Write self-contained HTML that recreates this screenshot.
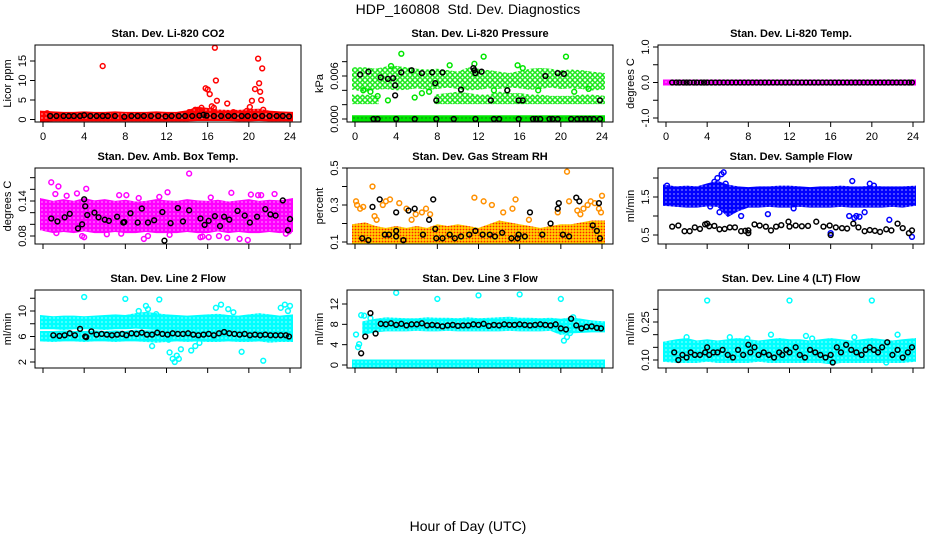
<!DOCTYPE html>
<html><head><meta charset="utf-8">
<style>
html,body{margin:0;padding:0;background:#fff}
svg{display:block;font-family:"Liberation Sans",Arial,sans-serif}
</style></head>
<body>
<svg id="chart" width="936" height="540" viewBox="0 0 936 540" xmlns="http://www.w3.org/2000/svg">
<defs>
<pattern id="pat-red" width="4" height="4" patternUnits="userSpaceOnUse"><rect width="4" height="4" fill="#ff0000"/><circle cx="2" cy="2" r="0.6" fill="#fff"/></pattern>
<pattern id="pat-green" width="4" height="4" patternUnits="userSpaceOnUse"><rect width="4" height="4" fill="#00e600"/><circle cx="2" cy="2" r="0.7" fill="#1a6a1a"/></pattern>
<pattern id="pat-green-sparse" width="5" height="5" patternUnits="userSpaceOnUse"><rect width="5" height="5" fill="#fff"/><circle cx="2.5" cy="2.5" r="1.8" fill="none" stroke="#00e600" stroke-width="1.3"/></pattern>
<pattern id="pat-magenta" width="4" height="4" patternUnits="userSpaceOnUse"><rect width="4" height="4" fill="#ff00ff"/><circle cx="2" cy="2" r="0.6" fill="#fff"/></pattern>
<pattern id="pat-orange" width="3" height="3" patternUnits="userSpaceOnUse"><rect width="3" height="3" fill="#ffd000"/><circle cx="1.5" cy="1.5" r="0.9" fill="#ff2000"/></pattern>
<pattern id="pat-blue" width="4" height="4" patternUnits="userSpaceOnUse"><rect width="4" height="4" fill="#0000ff"/><circle cx="2" cy="2" r="0.6" fill="#fff"/></pattern>
<pattern id="pat-cyan" width="4" height="4" patternUnits="userSpaceOnUse"><rect width="4" height="4" fill="#00ffff"/><circle cx="2" cy="2" r="0.6" fill="#fff"/></pattern>
</defs>
<text x="468" y="14" text-anchor="middle" font-size="14">HDP_160808&#160; Std. Dev. Diagnostics</text>
<text x="468" y="531" text-anchor="middle" font-size="14">Hour of Day (UTC)</text>
</svg>
<script>
const hours = [0,1,2,3,4,5,6,7,8,9,10,11,12,13,14,15,16,17,18,19,20,21,22,23,24];
const xTicks = [0,4,8,12,16,20,24];

// Panel 1: CO2
const co2Low = [0.2,0.3,0.3,0.3,0.3,0.3,0.3,0.3,0.3,0.3,0.3,0.3,0.3,0.3,0.3,0.4,0.4,0.4,0.4,0.3,0.3,0.4,0.3,0.3,0.3];
const co2High = [1.5,1.3,1.2,1.2,1.3,1.2,1.2,1.3,1.2,1.2,1.2,1.3,1.2,1.2,1.6,2.5,2.2,1.8,1.7,1.7,1.9,2.0,1.5,1.3,1.2];
const co2OutX = [0.4,5.8,14.2,14.8,15.1,15.4,15.8,16.0,16.2,16.4,16.6,16.7,16.8,16.9,17.9,18.5,19.8,20.1,20.3,20.6,20.9,21.0,21.1,21.2,21.3,21.4];
const co2OutY = [1.6,13.7,1.9,2.5,2.2,3.0,8.0,7.7,6.5,3.4,3.0,18.4,10.0,4.8,4.1,1.9,2.2,3.2,4.8,7.8,15.6,9.3,7.1,5.0,13.1,2.5];
const co2BlkX = [0.7,1.3,2.0,2.5,3.0,3.6,4.0,4.6,5.2,5.8,6.3,7.0,7.9,8.6,9.2,9.8,10.5,11.2,11.9,12.5,13.2,13.8,14.5,15.2,15.6,15.9,16.6,17.3,18.0,18.6,19.3,19.9,20.6,21.3,22.0,22.7,23.3,23.9];
const co2BlkY = [0.9,0.9,0.9,0.9,0.9,0.9,1.1,0.9,0.9,0.9,0.9,0.9,0.7,0.9,0.9,0.9,0.9,0.9,0.8,0.9,0.9,0.9,0.9,1.0,1.2,1.0,0.9,0.9,0.9,0.9,0.9,0.9,0.9,0.9,0.9,0.9,0.9,0.8];

// Panel 2: Pressure
const presZeroLow = [0,0,0,0,0,0,0,0,0,0,0,0,0,0,0,0,0,0,0,0,0,0,0,0,0];
const presZeroHigh = [0.0001,0.0001,0.0001,0.0001,0.0001,0.0001,0.0001,0.0001,0.0001,0.0001,0.0001,0.0001,0.0001,0.0001,0.0001,0.0001,0.0001,0.0001,0.0001,0.0001,0.0001,0.0001,0.0001,0.0001,0.0001];
const presLow = [0.0045,0.0042,0.0045,0.0046,0.0044,0.0045,0.0047,0.0045,0.0046,0.0048,0.0046,0.0044,0.0045,0.0047,0.0046,0.0048,0.0047,0.0045,0.0046,0.0048,0.0046,0.0047,0.0046,0.0044,0.0045];
const presHigh = [0.0068,0.0068,0.0066,0.0069,0.0070,0.0068,0.0066,0.0065,0.0066,0.0064,0.0062,0.0068,0.0066,0.0064,0.0062,0.0060,0.0063,0.0066,0.0067,0.0066,0.0064,0.0065,0.0064,0.0062,0.0060];
const presMidLow = [0.0025,0.0025,0.0025,null,null,null,null,null,0.0025,0.0025,0.0025,0.0025,0.0025,0.0025,0.0025,0.0025,0.0025,0.0025,0.0025,0.0025,0.0025,0.0025,0.0025,0.0025,0.0025];
const presMidHigh = [0.0030,0.0030,0.0028,null,null,null,null,null,0.0030,0.0032,0.0034,0.0032,0.0030,0.0030,0.0034,0.0032,0.0032,0.0030,0.0030,0.0028,0.0028,0.0028,0.0030,0.0030,0.0028];
const presOutX = [4.5,12.5,20.5,3.5,9.2,15.8,11.6,16.3,0.8,2.2,5.8,7.2,13.5,17.8,21.3,22.7,1.5,6.5,3.2,10.3,14.8];
const presOutY = [0.0091,0.0087,0.0087,0.0074,0.0075,0.0075,0.0077,0.0071,0.0040,0.0032,0.0030,0.0038,0.0040,0.0040,0.0038,0.0042,0.0038,0.0036,0.0026,0.0041,0.0040];
const presBlkX = [0.5,1.3,2.5,3.2,3.7,3.9,3.9,4.5,5.5,6.5,7.5,7.8,7.9,8.5,10.3,11.5,11.6,11.7,12.3,13.2,14.8,15.9,16.3,18.5,19.7,20.3,23.8,1.8,2.2,4.0,5.8,7.9,9.6,11.7,13.5,14.0,15.9,17.3,17.6,18.0,18.9,19.2,19.7,21.0,21.6,22.0,22.4,22.8,23.2,23.8];
const presBlkY = [0.0062,0.0066,0.0058,0.0056,0.0057,0.0047,0.0033,0.0065,0.0068,0.0064,0.0065,0.0050,0.0026,0.0065,0.0041,0.0071,0.0068,0.0064,0.0066,0.0026,0.0040,0.0026,0.0026,0.0060,0.0064,0.0063,0.0026,0,0,0,0,0,0,0,0,0,0,0,0,0,0,0,0,0,0,0,0,0,0,0];

// Panel 3: Li-820 Temp
const tempLow = [0,0,0,0,0,0,0,0,0,0,0,0,0,0,0,0,0,0,0,0,0,0,0,0,0];
const tempHigh = [0,0,0,0,0,0,0,0,0,0,0,0,0,0,0,0,0,0,0,0,0,0,0,0,0];
const tempBlkX = [0.6,1.0,1.3,1.7,2.0,2.3,2.7,3.0,3.4,3.7,4.0,4.4,4.8,5.2,5.6,6.0,6.4,6.8,7.2,7.6,8.0,8.4,8.8,9.2,9.6,10.0,10.4,10.8,11.2,11.6,12.0,12.4,12.8,13.2,13.6,14.0,14.4,14.8,15.2,15.6,16.0,16.4,16.8,17.2,17.6,18.0,18.4,18.8,19.2,19.6,20.0,20.4,20.8,21.2,21.6,22.0,22.4,22.8,23.2,23.6,23.9];
const tempBlkY = [0,0,0,0,0,0,0,0,0,0,0,0,0,0,0,0,0,0,0,0,0,0,0,0,0,0,0,0,0,0,0,0,0,0,0,0,0,0,0,0,0,0,0,0,0,0,0,0,0,0,0,0,0,0,0,0,0,0,0,0,0];

// Panel 4: Amb Box Temp
const ambLow = [0.095,0.09,0.092,0.09,0.093,0.09,0.09,0.092,0.09,0.09,0.092,0.09,0.09,0.09,0.092,0.09,0.09,0.093,0.09,0.092,0.09,0.09,0.092,0.09,0.092];
const ambHigh = [0.14,0.135,0.138,0.135,0.14,0.136,0.138,0.135,0.137,0.134,0.135,0.138,0.136,0.135,0.138,0.136,0.135,0.137,0.134,0.136,0.138,0.135,0.137,0.136,0.14];
const ambOutX = [0.8,1.2,1.5,2.3,3.3,3.8,4.2,6.2,7.4,8.1,9.3,10.2,11.3,12.1,14.2,15.3,16.3,17.1,18.3,19.1,20.2,21.2,22.5,23.6,4.0,7.6,12.3,15.5,16.1,17.9,19.9,20.9,23.9,1.3,9.8];
const ambOutY = [0.172,0.152,0.165,0.149,0.153,0.08,0.161,0.083,0.15,0.15,0.145,0.08,0.147,0.155,0.187,0.078,0.146,0.08,0.154,0.075,0.151,0.15,0.152,0.084,0.078,0.084,0.082,0.079,0.078,0.077,0.073,0.15,0.088,0.085,0.075];
const ambBlkX = [0.8,1.4,2.1,2.6,3.4,3.8,4.0,4.1,4.3,5.0,5.4,6.0,6.4,7.2,7.8,7.9,8.5,9.2,9.6,10.2,10.8,11.6,11.8,12.4,13.1,13.6,14.2,15.3,15.7,16.1,16.7,17.2,17.6,18.1,18.9,19.6,20.1,20.8,21.6,22.1,22.6,23.3,23.8,24.0];
const ambBlkY = [0.11,0.105,0.112,0.118,0.093,0.1,0.143,0.131,0.116,0.12,0.112,0.108,0.106,0.113,0.103,0.104,0.119,0.103,0.127,0.103,0.107,0.121,0.072,0.102,0.128,0.105,0.124,0.11,0.099,0.106,0.114,0.097,0.113,0.108,0.123,0.115,0.103,0.113,0.126,0.117,0.115,0.141,0.09,0.109];

// Panel 5: Gas Stream RH
const rhLow = [0.1,0.1,0.1,0.1,0.1,0.1,0.1,0.1,0.1,0.1,0.1,0.1,0.1,0.1,0.1,0.1,0.1,0.1,0.1,0.1,0.1,0.1,0.1,0.1,0.1];
const rhHigh = [0.18,0.19,0.17,0.16,0.17,0.16,0.17,0.16,0.18,0.17,0.18,0.17,0.16,0.18,0.2,0.19,0.18,0.17,0.16,0.17,0.18,0.18,0.19,0.2,0.2];
const rhOutX = [0.1,0.2,0.5,0.8,1.7,1.9,2.1,2.7,3.0,3.4,4.3,5.0,5.5,5.9,6.5,6.9,7.3,11.6,12.5,13.3,14.4,15.3,15.6,16.9,19.7,20.6,20.8,21.6,21.9,22.2,22.6,22.9,23.3,23.7,24.0,23.9];
const rhOutY = [0.32,0.3,0.28,0.29,0.4,0.24,0.22,0.3,0.32,0.33,0.31,0.28,0.22,0.25,0.26,0.28,0.25,0.34,0.32,0.3,0.26,0.28,0.33,0.22,0.26,0.48,0.32,0.27,0.25,0.28,0.3,0.32,0.31,0.28,0.35,0.26];
const rhBlkX = [0.7,1.3,1.7,2.4,2.9,3.3,4.0,4.0,4.0,4.7,5.2,5.8,6.6,7.2,7.6,7.8,7.9,8.5,9.2,9.7,10.3,11.1,11.7,12.4,13.1,13.6,14.3,15.2,15.8,15.9,16.5,17.0,18.2,19.0,19.7,19.8,20.2,20.8,21.5,21.8,23.1,23.5,23.7,23.8];
const rhBlkY = [0.12,0.11,0.29,0.33,0.14,0.14,0.26,0.16,0.13,0.11,0.27,0.28,0.14,0.22,0.33,0.17,0.12,0.12,0.14,0.12,0.13,0.14,0.16,0.14,0.14,0.13,0.15,0.12,0.12,0.14,0.13,0.26,0.14,0.2,0.28,0.31,0.14,0.13,0.34,0.32,0.19,0.16,0.31,0.12];

// Panel 6: Sample Flow
const sfLow = [1.35,1.32,1.3,1.3,1.33,1.32,1.05,1.2,1.3,1.3,1.32,1.3,1.3,1.32,1.3,1.3,1.3,1.32,1.3,1.3,1.3,1.3,1.32,1.3,1.35];
const sfHigh = [1.75,1.7,1.72,1.7,1.78,1.85,1.75,1.7,1.68,1.7,1.7,1.72,1.72,1.7,1.68,1.7,1.7,1.72,1.7,1.7,1.72,1.7,1.7,1.7,1.72];
const sfOutX = [0.1,4.7,5.0,5.4,5.6,5.8,4.3,7.3,9.9,12.4,16.0,17.8,18.3,18.8,19.3,19.8,20.2,21.7,23.9,18.1,18.5,5.2];
const sfOutY = [1.8,1.9,2.0,2.1,2.15,1.85,1.25,1.0,1.05,1.2,0.55,1.0,0.95,0.98,1.1,1.85,1.8,0.9,0.45,1.92,1.0,1.1];
const sfBlkX = [0.6,1.2,1.8,2.3,2.8,3.3,3.8,4.0,4.2,4.7,5.2,5.7,6.2,6.7,7.3,7.7,8.0,8.0,8.6,9.1,9.7,10.2,10.7,11.2,11.9,12.0,12.6,13.2,13.8,14.6,15.3,15.9,16.0,16.5,17.1,17.6,18.2,18.7,19.3,19.8,20.3,20.8,21.4,21.9,22.5,23.0,23.6,23.9];
const sfBlkY = [0.72,0.75,0.6,0.6,0.7,0.66,0.78,0.8,0.73,0.74,0.65,0.66,0.7,0.7,0.6,0.61,0.62,0.55,0.78,0.75,0.72,0.62,0.72,0.76,0.85,0.72,0.75,0.73,0.74,0.85,0.72,0.75,0.5,0.7,0.68,0.67,0.8,0.7,0.6,0.63,0.61,0.58,0.65,0.62,0.8,0.68,0.55,0.62];

// Panel 7: Line 2 Flow
const l2UpLow = [7.6,7.6,7.5,7.6,7.6,7.6,7.5,7.6,7.6,7.7,7.6,7.5,7.2,7.3,7.5,7.4,7.4,7.5,7.3,7.2,7.2,7.3,7.2,7.0,7.2];
const l2UpHigh = [8.9,8.7,8.8,8.8,8.7,8.8,8.9,9.0,8.9,9.2,9.4,9.2,9.0,8.9,8.8,8.9,9.0,9.1,8.9,8.8,9.0,9.2,9.0,8.8,9.0];
const l2LoLow = [5.7,5.6,5.7,5.7,5.6,5.7,5.7,5.6,5.7,5.7,5.6,5.5,5.6,5.7,5.6,5.7,5.6,5.6,5.7,5.6,5.6,5.7,5.5,5.6,5.6];
const l2LoHigh = [6.4,6.4,6.5,6.4,6.4,6.5,6.4,6.5,6.4,6.6,6.5,6.5,6.6,6.5,6.6,6.5,6.5,6.6,6.5,6.4,6.5,6.5,6.4,6.4,6.5];
const l2OutX = [4,8,11.3,12.3,12.6,12.8,13.0,13.2,13.4,12.2,10.6,10.2,10.0,14.4,14.8,15.2,16.8,17.3,18.0,18.5,19.3,21.4,23.1,23.5,23.8,24.0,9.3,11.0];
const l2OutY = [12.2,11.9,11.8,3.5,2.5,2.0,3.0,2.5,4.0,5.5,4.5,10.3,10.8,3.8,4.5,5.0,10.5,11.0,10.3,9.8,3.6,2.2,10.5,11.0,10.0,10.8,10.0,9.5];
const l2BlkX = [1.0,1.6,2.1,2.6,3.1,3.6,4.1,4.2,4.7,5.2,5.7,6.2,6.7,7.2,7.7,8.1,8.6,9.1,9.6,10.1,10.6,11.1,11.6,12.1,12.6,13.1,13.6,14.1,14.6,15.1,15.6,16.1,16.6,17.1,17.6,18.1,18.6,19.1,19.6,20.1,20.6,21.1,21.6,22.1,22.6,23.1,23.6,23.9];
const l2BlkY = [6.2,6.1,6.2,6.5,6.2,7.2,6.0,5.9,6.8,6.3,6.4,6.3,6.2,6.3,6.4,6.2,6.5,6.4,6.6,6.3,6.3,6.6,6.4,6.3,6.5,6.4,6.4,6.5,6.3,6.2,6.3,6.4,6.2,6.5,6.7,6.5,6.4,6.3,6.4,6.2,6.3,6.2,6.3,6.2,6.2,6.2,6.2,6.0];

// Panel 8: Line 3 Flow
const l3ZeroLow = [0,0,0,0,0,0,0,0,0,0,0,0,0,0,0,0,0,0,0,0,0,0,0,0,0];
const l3ZeroHigh = [0.5,0.5,0.5,0.5,0.5,0.5,0.5,0.5,0.5,0.5,0.5,0.5,0.5,0.5,0.5,0.5,0.5,0.5,0.5,0.5,0.5,0.5,0.5,0.5,0.5];
const l3Low = [null,6.5,7,7.2,7.2,7.2,7.3,7.2,7.2,7.3,7.2,7.2,7.2,7.2,7.2,7.3,7.2,7.2,7.2,7.3,6.5,6.8,6.9,7,7];
const l3High = [null,8,8.5,8.8,8.7,8.6,8.6,8.8,8.7,8.7,8.6,8.8,8.6,8.7,8.8,8.9,8.7,8.7,8.6,8.7,8.5,8.8,8.5,8.2,8.0];
const l3OutX = [0.1,0.3,0.6,0.9,0.4,4.0,8.0,12.0,16.0,20.0,20.3,20.6,20.9,21.2,1.5];
const l3OutY = [6,3.5,9.8,9.7,4.1,14.2,13,13.7,13.9,13,4.8,5.5,6.3,9.4,9.2];
const l3BlkX = [0.6,1.0,1.5,2.0,2.5,3.0,3.5,4.0,4.5,5.0,5.5,6.0,6.5,7.0,7.5,8.0,8.5,9.0,9.5,10.0,10.5,11.0,11.5,12.0,12.5,13.0,13.5,14.0,14.5,15.0,15.5,16.0,16.5,17.0,17.5,18.0,18.5,19.0,19.5,20.0,20.5,21.0,21.5,22.0,22.5,23.0,23.5,23.9];
const l3BlkY = [2.3,5.6,10.2,6.2,8.1,8.0,8.2,7.9,8.1,7.8,8.0,8.0,8.2,7.8,7.9,7.8,7.6,7.8,7.9,7.7,7.8,7.8,8.0,7.9,8.1,7.7,7.9,7.8,8.0,7.9,7.9,8.0,7.9,7.8,7.9,8.0,7.9,7.8,8.0,7.2,7.0,9.1,7.8,7.2,7.5,7.6,7.3,7.2];

// Panel 9: Line 4 Flow
const l4Low = [0.105,0.1,0.1,0.1,0.105,0.1,0.1,0.1,0.1,0.105,0.1,0.1,0.1,0.1,0.1,0.1,0.095,0.1,0.1,0.1,0.1,0.1,0.1,0.1,0.105];
const l4High = [0.16,0.17,0.175,0.165,0.17,0.165,0.17,0.175,0.17,0.165,0.17,0.175,0.17,0.17,0.165,0.17,0.175,0.17,0.165,0.17,0.175,0.17,0.165,0.17,0.175];
const l4OutX = [4,12,20,16.2,2.0,6.2,10.2,14.2,18.3,22.5,7.9,13.6,21.4];
const l4OutY = [0.335,0.335,0.335,0.09,0.19,0.19,0.2,0.185,0.19,0.2,0.185,0.195,0.09];
const l4BlkX = [0.8,1.2,1.6,2.0,2.4,2.8,3.3,3.8,4.0,4.2,4.6,5.0,5.5,6.0,6.5,7.0,7.5,8.0,8.2,8.6,9.0,9.5,10.0,10.5,11.0,11.3,11.7,12.0,12.6,13.0,13.5,14.0,14.5,15.0,15.5,16.0,16.2,16.6,17.0,17.5,18.0,18.5,19.0,19.4,19.8,20.2,20.6,21.0,21.5,22.0,22.5,23.0,23.5,23.9];
const l4BlkY = [0.13,0.10,0.12,0.11,0.13,0.12,0.12,0.13,0.15,0.12,0.13,0.13,0.14,0.12,0.11,0.14,0.12,0.16,0.13,0.15,0.12,0.13,0.12,0.11,0.13,0.12,0.14,0.13,0.15,0.12,0.11,0.14,0.13,0.12,0.11,0.12,0.09,0.15,0.13,0.16,0.14,0.13,0.12,0.14,0.15,0.14,0.13,0.15,0.17,0.12,0.14,0.11,0.13,0.15];

const NS = 'http://www.w3.org/2000/svg';
const svg = document.getElementById('chart');
const cols = [[35,301],[347,613],[658,924]];
const rows = [[45,122],[168,244],[290,368]];

function mk(tag, attrs, parent) {
  const e = document.createElementNS(NS, tag);
  for (const k in attrs) e.setAttribute(k, attrs[k]);
  (parent || svg).appendChild(e);
  return e;
}

function panel(cfg) {
  const [bl, br] = cols[cfg.col];
  const [bt, bb] = rows[cfg.row];
  const g = mk('g', {});
  
  
  const xs = h => (bl + 8) + h * ((br - 11) - (bl + 8)) / 24;
  const [v0, p0, v1, p1] = cfg.ref;
  const ys = v => p0 + (v - v0) * (p1 - p0) / (v1 - v0);
  const clip = 'clip-' + cfg.name;
  const cp = mk('clipPath', {id: clip}, g);
  mk('rect', {x: bl, y: bt, width: br - bl, height: bb - bt}, cp);
  const plot = mk('g', {'clip-path': 'url(#' + clip + ')'}, g);

  (cfg.bands || []).forEach(b => {
    let seg = [];
    const segs = [];
    hours.forEach((h, i) => {
      if (b.low[i] === null || b.high[i] === null) { if (seg.length) segs.push(seg); seg = []; }
      else seg.push(i);
    });
    if (seg.length) segs.push(seg);
    segs.forEach(s => {
      const top = s.map(i => (xs(hours[i]) + (i === s[0] ? -3 : 0) + (i === s[s.length-1] ? 3 : 0)) + ',' + (ys(b.high[i]) - 3));
      const bot = s.slice().reverse().map(i => (xs(hours[i]) + (i === s[0] ? -3 : 0) + (i === s[s.length-1] ? 3 : 0)) + ',' + (ys(b.low[i]) + 3));
      const p = mk('polygon', {points: top.concat(bot).join(' '), fill: 'url(#' + b.pat + ')'}, plot);
      
      
    });
  });
  (cfg.points || []).forEach(s => {
    const n = Math.min(s.x.length, s.y.length);
    for (let i = 0; i < n; i++) {
      const c = mk('circle', {cx: xs(s.x[i]), cy: ys(s.y[i]), r: 2.4, fill: 'none', stroke: s.color, 'stroke-width': 1.5}, plot);
      
      
    }
  });

  const box = mk('rect', {x: bl, y: bt, width: br - bl, height: bb - bt, fill: 'none', stroke: '#000', 'stroke-width': 1}, g);
  
  
  mk('line', {x1: xs(0), x2: xs(24), y1: bb, y2: bb, stroke: '#000'}, g);
  xTicks.forEach(t => {
    mk('line', {x1: xs(t), x2: xs(t), y1: bb, y2: bb + 5, stroke: '#000'}, g);
    if (cfg.row === 0) {
      const tx = mk('text', {x: xs(t), y: bb + 18, 'text-anchor': 'middle', 'font-size': 11}, g);
      tx.textContent = t;
      
      
    }
  });
  mk('line', {x1: bl, x2: bl, y1: ys(cfg.ticks[0]), y2: ys(cfg.ticks[cfg.ticks.length - 1]), stroke: '#000'}, g);
  cfg.ticks.forEach((t, i) => {
    mk('line', {x1: bl - 5, x2: bl, y1: ys(t), y2: ys(t), stroke: '#000'}, g);
    const lab = cfg.labels[i];
    if (lab) {
      const tx = mk('text', {x: bl - 9, y: ys(t), 'text-anchor': 'middle', 'font-size': 11, transform: 'rotate(-90 ' + (bl - 9) + ' ' + ys(t) + ')'}, g);
      tx.textContent = lab;
      
      
    }
  });
  const yl = mk('text', {x: bl - 24, y: (bt + bb) / 2, 'text-anchor': 'middle', 'font-size': 11, transform: 'rotate(-90 ' + (bl - 24) + ' ' + ((bt + bb) / 2) + ')'}, g);
  yl.textContent = cfg.ylab;
  
  
  const ti = mk('text', {x: (bl + br) / 2, y: bt - 8, 'text-anchor': 'middle', 'font-size': 11, 'font-weight': 'bold'}, g);
  ti.textContent = cfg.title;
  
  
}

panel({name: 'panel-co2', col: 0, row: 0, ref: [0, 119.5, 15, 61], ticks: [0,5,10,15], labels: ['0','5','10','15'], ylab: 'Licor ppm', title: 'Stan. Dev. Li-820 CO2',
  bands: [{low: co2Low, high: co2High, pat: 'pat-red'}],
  points: [{x: co2OutX, y: co2OutY, color: '#ff0000', pname: 'co2-point'}, {x: co2BlkX, y: co2BlkY, color: '#000', pname: 'co2-black-point'}]});
panel({name: 'panel-pressure', col: 1, row: 0, ref: [0, 119, 0.006, 76], ticks: [0,0.002,0.004,0.006,0.008], labels: ['0.000','','','0.006',''], ylab: 'kPa', title: 'Stan. Dev. Li-820 Pressure',
  bands: [{low: presZeroLow, high: presZeroHigh, pat: 'pat-green'}, {low: presLow, high: presHigh, pat: 'pat-green-sparse'}, {low: presMidLow, high: presMidHigh, pat: 'pat-green-sparse'}],
  points: [{x: presOutX, y: presOutY, color: '#00e600', pname: 'pressure-point'}, {x: presBlkX, y: presBlkY, color: '#000', pname: 'pressure-black-point'}]});
panel({name: 'panel-li820-temp', col: 2, row: 0, ref: [-1, 118, 1, 47], ticks: [-1,-0.5,0,0.5,1], labels: ['-1.0','','0.0','','1.0'], ylab: 'degrees C', title: 'Stan. Dev. Li-820 Temp.',
  bands: [{low: tempLow, high: tempHigh, pat: 'pat-magenta'}],
  points: [{x: tempBlkX, y: tempBlkY, color: '#000', pname: 'temp-black-point'}]});
panel({name: 'panel-amb-box-temp', col: 0, row: 1, ref: [0.08, 236, 0.14, 201], ticks: [0.08,0.10,0.12,0.14,0.16,0.18], labels: ['0.08','','','0.14','',''], ylab: 'degrees C', title: 'Stan. Dev. Amb. Box Temp.',
  bands: [{low: ambLow, high: ambHigh, pat: 'pat-magenta'}],
  points: [{x: ambOutX, y: ambOutY, color: '#ff00ff', pname: 'amb-point'}, {x: ambBlkX, y: ambBlkY, color: '#000', pname: 'amb-black-point'}]});
panel({name: 'panel-gas-rh', col: 1, row: 1, ref: [0.1, 242, 0.5, 168], ticks: [0.1,0.2,0.3,0.4,0.5], labels: ['0.1','','0.3','','0.5'], ylab: 'percent', title: 'Stan. Dev. Gas Stream RH',
  bands: [{low: rhLow, high: rhHigh, pat: 'pat-orange'}],
  points: [{x: rhOutX, y: rhOutY, color: '#ff9000', pname: 'rh-point'}, {x: rhBlkX, y: rhBlkY, color: '#000', pname: 'rh-black-point'}]});
panel({name: 'panel-sample-flow', col: 2, row: 1, ref: [0.5, 235, 1.5, 197], ticks: [0.5,1.0,1.5,2.0], labels: ['0.5','','1.5',''], ylab: 'ml/min', title: 'Stan. Dev. Sample Flow',
  bands: [{low: sfLow, high: sfHigh, pat: 'pat-blue'}],
  points: [{x: sfOutX, y: sfOutY, color: '#0000ff', pname: 'sample-flow-point'}, {x: sfBlkX, y: sfBlkY, color: '#000', pname: 'sample-flow-black-point'}]});
panel({name: 'panel-line2-flow', col: 0, row: 2, ref: [2, 362, 10, 311], ticks: [2,4,6,8,10,12], labels: ['2','','6','','10',''], ylab: 'ml/min', title: 'Stan. Dev. Line 2 Flow',
  bands: [{low: l2UpLow, high: l2UpHigh, pat: 'pat-cyan'}, {low: l2LoLow, high: l2LoHigh, pat: 'pat-cyan'}],
  points: [{x: l2OutX, y: l2OutY, color: '#00ffff', pname: 'line2-point'}, {x: l2BlkX, y: l2BlkY, color: '#000', pname: 'line2-black-point'}]});
panel({name: 'panel-line3-flow', col: 1, row: 2, ref: [0, 365, 12, 304], ticks: [0,4,8,12], labels: ['0','4','8','12'], ylab: 'ml/min', title: 'Stan. Dev. Line 3 Flow',
  bands: [{low: l3ZeroLow, high: l3ZeroHigh, pat: 'pat-cyan'}, {low: l3Low, high: l3High, pat: 'pat-cyan'}],
  points: [{x: l3OutX, y: l3OutY, color: '#00ffff', pname: 'line3-point'}, {x: l3BlkX, y: l3BlkY, color: '#000', pname: 'line3-black-point'}]});
panel({name: 'panel-line4-flow', col: 2, row: 2, ref: [0.10, 360, 0.25, 322], ticks: [0.10,0.15,0.20,0.25,0.30], labels: ['0.10','','','0.25',''], ylab: 'ml/min', title: 'Stan. Dev. Line 4 (LT) Flow',
  bands: [{low: l4Low, high: l4High, pat: 'pat-cyan'}],
  points: [{x: l4OutX, y: l4OutY, color: '#00ffff', pname: 'line4-point'}, {x: l4BlkX, y: l4BlkY, color: '#000', pname: 'line4-black-point'}]});
</script>
</body></html>
